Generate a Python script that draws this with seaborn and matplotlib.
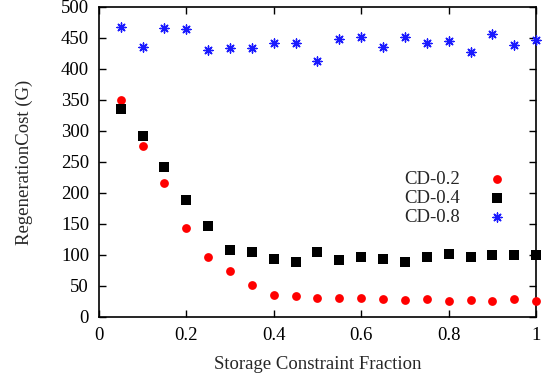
import matplotlib
matplotlib.use("Agg")
import matplotlib.pyplot as plt
import seaborn as sns
import pandas as pd

fractions = [0.05, 0.10, 0.15, 0.20, 0.25, 0.30, 0.35, 0.40, 0.45, 0.50,
             0.55, 0.60, 0.65, 0.70, 0.75, 0.80, 0.85, 0.90, 0.95, 1.00]
cd_02 = [350, 275, 216, 144, 97, 74, 52, 36, 34, 31,
         30, 30, 29, 27, 29, 26, 28, 26, 29, 25]
cd_04 = [335, 292, 242, 189, 146, 108, 104, 94, 88, 104,
         92, 97, 94, 89, 97, 102, 97, 100, 100, 100]
cd_08 = [468, 436, 466, 465, 430, 433, 433, 442, 441, 412,
         448, 452, 435, 452, 441, 445, 427, 456, 438, 446]
series_names = ["CD-0.2", "CD-0.4", "CD-0.8"]


def main():
    frames = []
    for name, vals in zip(series_names, [cd_02, cd_04, cd_08]):
        frames.append(pd.DataFrame({"x": fractions, "y": vals, "series": name}))
    df = pd.concat(frames, ignore_index=True)

    sns.set_style("ticks")
    plt.rcParams["font.family"] = ["Liberation Serif", "DejaVu Serif"]
    plt.rcParams["xtick.direction"] = "in"
    plt.rcParams["ytick.direction"] = "in"

    fig = plt.figure(figsize=(5.46, 3.81), dpi=100)
    ax = fig.add_axes([0.181, 0.168, 0.801, 0.814])

    palette = {"CD-0.2": "#ff0000", "CD-0.4": "#000000", "CD-0.8": "#1a1aff"}
    markers = {"CD-0.2": "o", "CD-0.4": "s", "CD-0.8": (8, 2, 0)}
    sizes = {"CD-0.2": 40, "CD-0.4": 50, "CD-0.8": 42}

    for name in series_names:
        sub = df[df["series"] == name]
        sns.scatterplot(data=sub, x="x", y="y", ax=ax, color=palette[name],
                        marker=markers[name], s=sizes[name],
                        linewidth=1.0 if name == "CD-0.8" else 0,
                        edgecolor=palette[name], label=name, clip_on=False,
                        zorder=3)

    ax.set_xlim(0, 1)
    ax.set_ylim(0, 500)
    ax.set_xticks([0, 0.2, 0.4, 0.6, 0.8, 1.0])
    ax.set_xticklabels(["0", "0.2", "0.4", "0.6", "0.8", "1"])
    ax.set_yticks(range(0, 501, 50))
    ax.tick_params(axis="both", which="both", top=True, right=True,
                   labelsize=13.5, length=5, width=1, pad=7, colors="black")
    for sp in ax.spines.values():
        sp.set_linewidth(1.2)
        sp.set_color("black")

    ax.set_xlabel("Storage Constraint Fraction", fontsize=13.5, labelpad=9)
    ax.set_ylabel("RegenerationCost (G)", fontsize=13.5, labelpad=20)

    # gnuplot-style key: label first, marker on the right
    ax.legend(loc="upper right", bbox_to_anchor=(0.954, 0.47),
              frameon=False, markerfirst=False, fontsize=13.5,
              handletextpad=1.0, handlelength=2.0, labelspacing=0.1,
              borderpad=0, borderaxespad=0)

    fig.savefig("out.png", dpi=100)
    plt.close(fig)


if __name__ == "__main__":
    main()
